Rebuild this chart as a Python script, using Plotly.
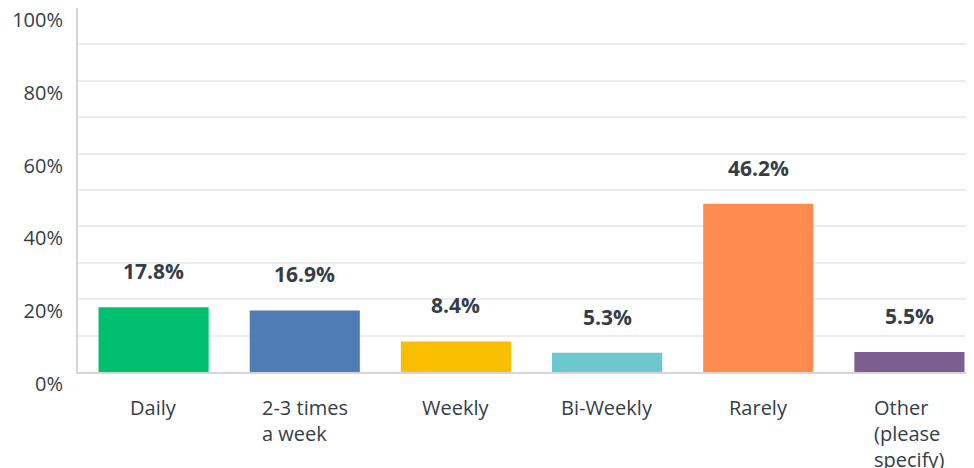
import plotly.graph_objects as go

# Données du graphique
categories = ['Daily', '2-3 times a week', 'Weekly', 'Bi-Weekly', 'Rarely', 'Other (please specify)']
labels_axe = ['Daily', '2-3 times<br>a week', 'Weekly', 'Bi-Weekly', 'Rarely', 'Other<br>(please<br>specify)']
valeurs = [17.8, 16.9, 8.4, 5.3, 46.2, 5.5]
couleurs = ['#00bf6f', '#507cb6', '#f9be00', '#6bc8cd', '#ff8b4f', '#7d5e90']
ticks_y = [0, 10, 20, 30, 40, 50, 60, 70, 80, 90, 100]
ticks_y_texte = ['0%', '', '20%', '', '40%', '', '60%', '', '80%', '', '100%']

texte = '#333e48'
police = 'Open Sans'

fig = go.Figure()
fig.add_trace(go.Bar(
    x=list(range(len(categories))),
    y=valeurs,
    marker=dict(color=couleurs, line=dict(width=0)),
    width=110 / 151,
    hovertext=categories,
    hoverinfo='text+y',
))

annotations = []
# Valeurs au-dessus des barres
for i, v in enumerate(valeurs):
    annotations.append(dict(
        x=i, y=v, xref='x', yref='y', text=f'<b>{v:.1f}%</b>',
        showarrow=False, yshift=36, font=dict(size=21, color=texte, family=police),
    ))
# Libellés des catégories (alignés à gauche)
for i, lab in enumerate(labels_axe):
    annotations.append(dict(
        x=i, y=0, xref='x', yref='y', text=lab, align='left',
        xanchor='center', yanchor='top', showarrow=False, yshift=-20,
        font=dict(size=20, color=texte, family=police),
    ))

# la page ajoute une marge de 8 px autour du graphique
fig.update_layout(
    width=974,
    height=468,
    margin=dict(l=70, r=0, t=0, b=104),
    plot_bgcolor='white',
    paper_bgcolor='white',
    showlegend=False,
    font=dict(family=police, color=texte, size=18),
    annotations=annotations,
    xaxis=dict(
        range=[-0.5, 5.48],
        showticklabels=False,
        showgrid=False,
        zeroline=False,
        showline=True,
        linecolor='#d5d5d5',
        linewidth=2,
        fixedrange=True,
        automargin=False,
    ),
    yaxis=dict(
        range=[0, 100],
        tickvals=ticks_y,
        ticktext=ticks_y_texte,
        showgrid=True,
        gridcolor='#ececec',
        gridwidth=2,
        zeroline=False,
        showline=True,
        linecolor='#d5d5d5',
        linewidth=2,
        ticks='',
        ticklabelshift=12,
        ticklabelstandoff=9,
        ticklabeloverflow='allow',
        automargin=False,
        tickfont=dict(size=20, color=texte, family=police),
        fixedrange=True,
    ),
)

fig.write_html('out.html')
